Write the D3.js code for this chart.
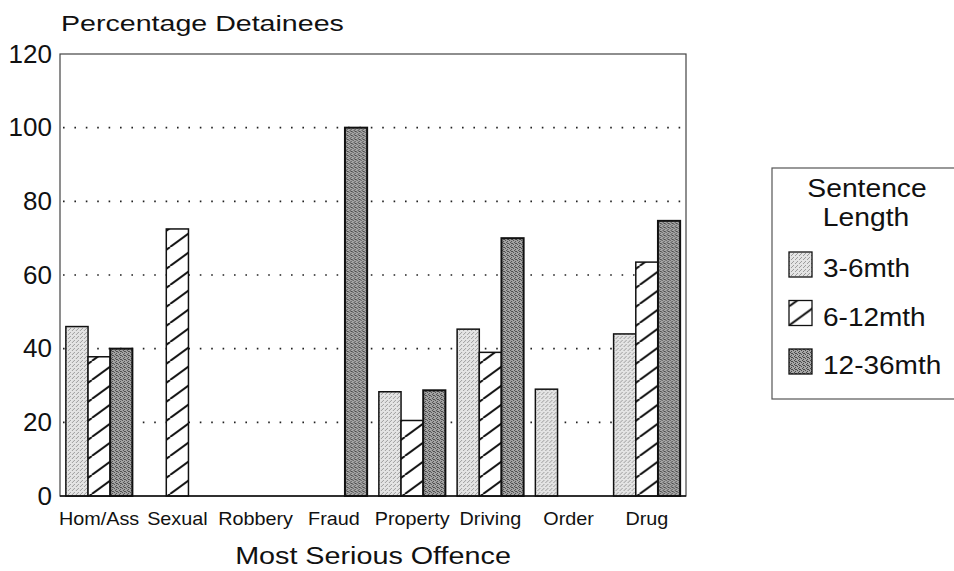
<!DOCTYPE html>
<html>
<head>
<meta charset="utf-8">
<script src="https://cdn.jsdelivr.net/npm/d3@7"></script>
<style>
  body { margin: 0; background: #fff; }
  svg { display: block; font-family: "Liberation Sans", Arial, sans-serif; }
</style>
</head>
<body>
<div id="chart"></div>
<script>
// data
const offences = ["Hom/Ass", "Sexual", "Robbery", "Fraud", "Property", "Driving", "Order", "Drug"];
const seriesNames = ["3-6mth", "6-12mth", "12-36mth"];
const short = [46, null, null, null, 28.3, 45.3, 29, 44];
const medium = [37.8, 72.5, null, null, 20.5, 39, null, 63.5];
const long = [40, null, null, 100, 28.7, 70, null, 74.7];
const yTicks = [0, 20, 40, 60, 80, 100, 120];
const gridTicks = [20, 40, 60, 80, 100];

const width = 954, height = 571;
const margin = { top: 54, right: 264, bottom: 75, left: 60 };

const svg = d3.select("#chart").append("svg")
  .attr("width", width)
  .attr("height", height);

// patterns to mimic the halftone fills
const defs = svg.append("defs");

const light = defs.append("pattern").attr("id", "fill-light")
  .attr("patternUnits", "userSpaceOnUse").attr("width", 4).attr("height", 4);
light.append("rect").attr("width", 4).attr("height", 4).attr("fill", "#e4e4e4");
[[0, 0], [2, 2], [3, 1]].forEach(p => light.append("rect")
  .attr("x", p[0]).attr("y", p[1]).attr("width", 1).attr("height", 1).attr("fill", "#9c9c9c"));

const dark = defs.append("pattern").attr("id", "fill-dark")
  .attr("patternUnits", "userSpaceOnUse").attr("width", 4).attr("height", 4);
dark.append("rect").attr("width", 4).attr("height", 4).attr("fill", "#a6a6a6");
[[0, 0], [2, 1], [1, 2], [3, 3], [2, 3]].forEach(p => dark.append("rect")
  .attr("x", p[0]).attr("y", p[1]).attr("width", 1).attr("height", 1).attr("fill", "#4a4a4a"));

const hatch = defs.append("pattern").attr("id", "fill-hatch")
  .attr("patternUnits", "userSpaceOnUse").attr("width", 26).attr("height", 19);
hatch.append("rect").attr("width", 26).attr("height", 19).attr("fill", "#fff");
[-26, 0, 26].forEach(dx => hatch.append("line")
  .attr("x1", dx).attr("y1", 19).attr("x2", dx + 26).attr("y2", 0)
  .attr("stroke", "#111").attr("stroke-width", 2));

const fills = ["url(#fill-light)", "url(#fill-hatch)", "url(#fill-dark)"];

const plotRight = width - margin.right - 4;

// scales
const x = d3.scaleBand()
  .domain(offences)
  .range([margin.left, plotRight])
  .paddingInner(0.15)
  .paddingOuter(0.075);

const xInner = d3.scaleBand()
  .domain(seriesNames)
  .range([0, x.bandwidth()]);

const y = d3.scaleLinear()
  .domain([0, 120])
  .range([height - margin.bottom, margin.top]);

// dotted grid lines
svg.append("g").selectAll("line")
  .data(gridTicks)
  .enter().append("line")
  .attr("x1", margin.left + 3)
  .attr("x2", plotRight - 2)
  .attr("y1", d => y(d))
  .attr("y2", d => y(d))
  .attr("stroke", "#222")
  .attr("stroke-width", 1.6)
  .attr("stroke-dasharray", "1.6,9.8");

// frame
svg.append("rect")
  .attr("x", margin.left)
  .attr("y", y(120))
  .attr("width", plotRight - margin.left)
  .attr("height", y(0) - y(120))
  .attr("fill", "none")
  .attr("stroke", "#444")
  .attr("stroke-width", 1.2);

// bars
const rows = offences.map((o, i) => ({ offence: o, values: [short[i], medium[i], long[i]] }));

const groups = svg.append("g").selectAll("g")
  .data(rows)
  .enter().append("g")
  .attr("transform", d => `translate(${x(d.offence)},0)`);

groups.selectAll("rect")
  .data(d => d.values.map((v, j) => ({ key: seriesNames[j], value: v, j: j })).filter(d => d.value != null))
  .enter().append("rect")
  .attr("x", d => xInner(d.key))
  .attr("y", d => y(d.value))
  .attr("width", xInner.bandwidth())
  .attr("height", d => y(0) - y(d.value))
  .attr("fill", d => fills[d.j])
  .attr("stroke", "#111")
  .attr("stroke-width", d => d.j === 2 ? 2 : 1.5);

// bottom baseline
svg.append("line")
  .attr("x1", margin.left).attr("x2", plotRight)
  .attr("y1", y(0)).attr("y2", y(0))
  .attr("stroke", "#111").attr("stroke-width", 1.5);

// y axis labels
const yAxis = svg.append("g")
  .attr("transform", `translate(${margin.left},0)`)
  .call(d3.axisLeft(y).tickValues(yTicks).tickSize(0).tickPadding(8));
yAxis.select(".domain").remove();
yAxis.selectAll("text")
  .attr("font-size", 26)
  .attr("font-family", "Liberation Sans, Arial, sans-serif")
  .attr("fill", "#111");

// x axis labels
const xAxis = svg.append("g")
  .attr("transform", `translate(0,${y(0)})`)
  .call(d3.axisBottom(x).tickSize(0));
xAxis.select(".domain").remove();
xAxis.selectAll("text")
  .attr("y", 0)
  .attr("dy", 0)
  .attr("transform", "translate(0,29) scale(1.1,1)")
  .attr("font-size", 18)
  .attr("font-family", "Liberation Sans, Arial, sans-serif")
  .attr("fill", "#111");

// stretched text helper (the scan is wider than tall)
function label(txt, tx, ty, size, sx, anchor) {
  svg.append("text")
    .attr("transform", `translate(${tx},${ty}) scale(${sx},1)`)
    .attr("font-size", size)
    .attr("text-anchor", anchor || "start")
    .attr("fill", "#111")
    .text(txt);
}

label("Percentage Detainees", 61, 31, 22, 1.3);
label("Most Serious Offence", (margin.left + plotRight) / 2, 564, 23, 1.25, "middle");

// legend
const legend = svg.append("g");
legend.append("rect")
  .attr("x", 772).attr("y", 168)
  .attr("width", 200).attr("height", 231)
  .attr("fill", "#fff")
  .attr("stroke", "#555")
  .attr("stroke-width", 1.2);

label("Sentence", 867, 197, 25, 1.13, "middle");
label("Length", 866, 226, 25, 1.13, "middle");

const legendRows = legend.selectAll("g.item")
  .data(seriesNames)
  .enter().append("g")
  .attr("class", "item")
  .attr("transform", (d, i) => `translate(789,${277 + i * 48.5})`);

legendRows.append("rect")
  .attr("x", 0).attr("y", -25)
  .attr("width", 23).attr("height", 25)
  .attr("fill", (d, i) => fills[i])
  .attr("stroke", "#111")
  .attr("stroke-width", 1.3);

legendRows.append("text")
  .attr("transform", "translate(34,0) scale(1.12,1)")
  .attr("font-size", 25)
  .attr("fill", "#111")
  .text(d => d);
</script>
</body>
</html>
